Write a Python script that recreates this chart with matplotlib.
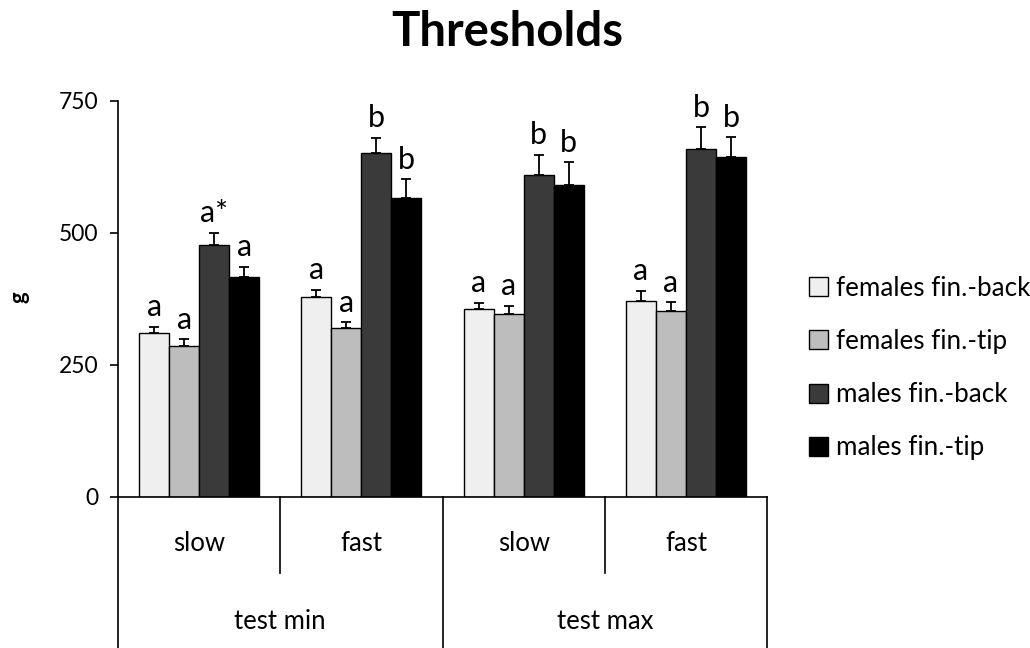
import matplotlib.pyplot as plt
import numpy as np

plt.rcParams['font.family'] = ['Lato', 'DejaVu Sans']

# data
groups = ['slow', 'fast', 'slow', 'fast']
tests = ['test min', 'test max']
series = ['females fin.-back', 'females fin.-tip', 'males fin.-back', 'males fin.-tip']
fem_back = [310, 379, 355, 371]
fem_tip = [286, 319, 346, 351]
male_back = [477, 650, 610, 658]
male_tip = [417, 566, 590, 643]
fem_back_err = [12, 13, 12, 19]
fem_tip_err = [12, 11, 16, 17]
male_back_err = [23, 30, 38, 42]
male_tip_err = [18, 35, 43, 38]
fem_back_lbl = ['a', 'a', 'a', 'a']
fem_tip_lbl = ['a', 'a', 'a', 'a']
male_back_lbl = ['a*', 'b', 'b', 'b']
male_tip_lbl = ['a', 'b', 'b', 'b']

colors = ['#efefef', '#bdbdbd', '#3a3a3a', '#000000']
vals = [fem_back, fem_tip, male_back, male_tip]
errs = [fem_back_err, fem_tip_err, male_back_err, male_tip_err]
lbls = [fem_back_lbl, fem_tip_lbl, male_back_lbl, male_tip_lbl]

fig = plt.figure(figsize=(10.3, 6.48), dpi=100)
ax = fig.add_axes([0.1146, 0.2335, 0.6301, 0.6111])

x = np.arange(len(groups))
w = 0.185
for i in range(4):
    pos = x + (i - 1.5) * w
    ax.bar(pos, vals[i], w, color=colors[i], edgecolor='black', linewidth=1.0,
           label=series[i], zorder=2)
    ax.errorbar(pos, vals[i], yerr=[np.zeros(4), errs[i]], fmt='none', ecolor='black',
                elinewidth=1.3, capsize=3.5, capthick=1.3, zorder=1)
    for p, v, e, t in zip(pos, vals[i], errs[i], lbls[i]):
        ax.annotate(t, (p, v + e), xytext=(0, 4), textcoords='offset points',
                    ha='center', va='bottom', fontsize=22)

ax.set_xlim(-0.5, 3.5)
ax.set_ylim(0, 750)
ax.set_yticks([0, 250, 500, 750])
ax.tick_params(axis='y', direction='out', length=6, width=1.2, labelsize=16.5, pad=8)
ax.set_xticks([])
for s in ['top', 'right']:
    ax.spines[s].set_visible(False)
ax.spines['left'].set_linewidth(1.2)
ax.spines['bottom'].set_linewidth(1.2)

# category table under the axis
tr = ax.get_xaxis_transform()
for xl in [-0.5, 1.5, 3.5]:
    ax.plot([xl, xl], [0, -0.39], color='black', lw=1.2, transform=tr, clip_on=False)
for xs in [0.5, 2.5]:
    ax.plot([xs, xs], [0, -0.193], color='black', lw=1.2, transform=tr, clip_on=False)
for xi, g in zip(x, groups):
    ax.text(xi, -0.117, g, transform=tr, ha='center', va='center', fontsize=18.5)
for xi, t in zip([0.5, 2.5], tests):
    ax.text(xi, -0.316, t, transform=tr, ha='center', va='center', fontsize=18.5)

fig.text(0.492, 0.95, 'Thresholds', ha='center', va='center', fontsize=34, fontweight='bold')
fig.text(0.018, 0.541, 'g', rotation=90, ha='center', va='center', fontsize=16, fontweight='bold')

fig.legend(loc='center left', bbox_to_anchor=(0.785, 0.432), frameon=False, fontsize=18.7,
           handlelength=0.75, handleheight=0.75, handletextpad=0.3, labelspacing=1.08,
           borderpad=0, borderaxespad=0)

plt.savefig('out.png', dpi=100)
